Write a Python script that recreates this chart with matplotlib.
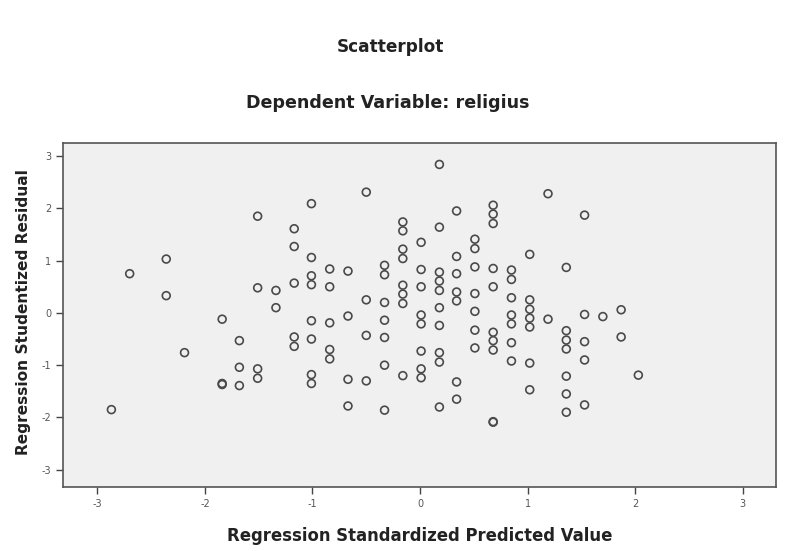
import matplotlib
matplotlib.use('Agg')
import matplotlib.pyplot as plt

# predicted value columns (standardized) and the residuals in each column
pred_cols = [-2.87, -2.70, -2.36, -2.19, -1.84, -1.68, -1.51, -1.34, -1.17, -1.01,
             -0.84, -0.67, -0.50, -0.33, -0.16, 0.01, 0.18, 0.34, 0.51, 0.68,
             0.85, 1.02, 1.19, 1.36, 1.53, 1.70, 1.87, 2.03]
resid_cols = [
    [-1.85],
    [0.75],
    [1.03, 0.33],
    [-0.76],
    [-0.12, -1.35, -1.37],
    [-0.53, -1.04, -1.39],
    [1.85, 0.48, -1.07, -1.25],
    [0.43, 0.10],
    [1.61, 1.27, 0.57, -0.46, -0.64],
    [2.09, 1.06, 0.71, 0.54, -0.15, -0.50, -1.18, -1.35],
    [0.84, 0.50, -0.19, -0.70, -0.88],
    [0.80, -0.06, -1.27, -1.78],
    [2.31, 0.25, -0.43, -1.30],
    [0.91, 0.73, 0.20, -0.14, -0.47, -1.00, -1.86],
    [1.74, 1.57, 1.22, 1.04, 0.53, 0.36, 0.18, -1.20],
    [1.35, 0.83, 0.50, -0.04, -0.21, -0.73, -1.07, -1.24],
    [2.84, 1.64, 0.78, 0.61, 0.43, 0.10, -0.24, -0.76, -0.94, -1.80],
    [1.95, 1.08, 0.75, 0.40, 0.23, -1.32, -1.65],
    [1.41, 1.23, 0.88, 0.37, 0.03, -0.33, -0.67],
    [2.06, 1.89, 1.71, 0.85, 0.50, -0.37, -0.53, -0.71, -2.08, -2.09],
    [0.82, 0.64, 0.29, -0.04, -0.21, -0.57, -0.92],
    [1.12, 0.25, 0.07, -0.10, -0.27, -0.96, -1.47],
    [2.28, -0.12],
    [0.87, -0.34, -0.52, -0.69, -1.21, -1.55, -1.90],
    [1.87, -0.03, -0.55, -0.90, -1.76],
    [-0.07],
    [0.06, -0.46],
    [-1.19],
]
ticks = [-3, -2, -1, 0, 1, 2, 3]

xs, ys = [], []
for x, col in zip(pred_cols, resid_cols):
    for r in col:
        xs.append(x)
        ys.append(r)

plt.rcParams['font.family'] = ['DejaVu Sans']
plt.rcParams['axes.unicode_minus'] = False

fig = plt.figure(figsize=(7.85, 5.51), dpi=100)
ax = fig.add_axes([63 / 785, 1 - 487 / 551, (776 - 63) / 785, (487 - 143) / 551])
ax.set_facecolor('#f0f0f0')
ax.scatter(xs, ys, s=32, facecolors='none', edgecolors='#4a4a4a', linewidths=1.2)

ax.set_xlim(-3.32, 3.31)
ax.set_ylim(-3.33, 3.25)
ax.set_xticks(ticks)
ax.set_yticks(ticks)
ax.tick_params(direction='out', length=5, width=1, colors='#444444', labelsize=7,
               labelcolor='#555555')
for sp in ax.spines.values():
    sp.set_color('#555555')
    sp.set_linewidth(1.2)

ax.set_xlabel('Regression Standardized Predicted Value', fontsize=11.9, fontweight='bold',
              color='#222222')
ax.set_ylabel('Regression Studentized Residual', fontsize=11.1, fontweight='bold',
              color='#222222')
ax.xaxis.label.set_va('center')
ax.yaxis.label.set_va('center')
ax.xaxis.set_label_coords((420 - 63) / 713, (487 - 536) / 344)
ax.yaxis.set_label_coords((24 - 63) / 713, (487 - 312) / 344)

fig.text(0.497, 1 - 47 / 551, 'Scatterplot', ha='center', va='center',
         fontsize=12.2, fontweight='bold', color='#222222')
fig.text(0.494, 1 - 103 / 551, 'Dependent Variable: religius', ha='center', va='center',
         fontsize=12.6, fontweight='bold', color='#222222')

fig.savefig('out.png', dpi=100, facecolor='white')
